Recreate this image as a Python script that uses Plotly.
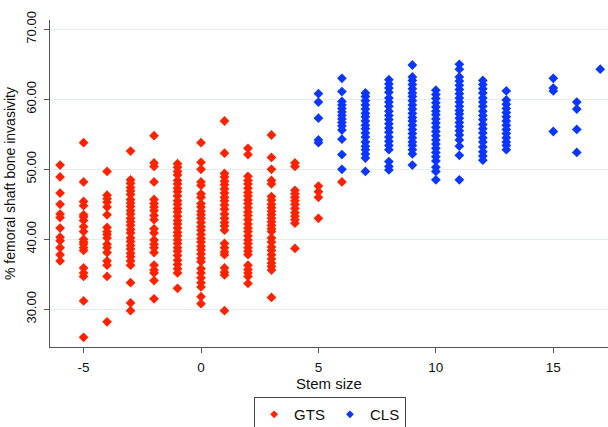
import plotly.graph_objects as go

# ---- data ----
gts_stems = [-6, -5, -4, -3, -2, -1, 0, 1, 2, 3, 4, 5, 6]
gts_values = [
    [50.6, 48.9, 46.6, 45.0, 43.6, 43.1, 41.6, 40.3, 39.8, 38.8, 37.8, 36.9],
    [53.8, 48.2, 45.4, 44.8, 43.5, 43.2, 42.7, 41.8, 41.1, 40.0, 39.6, 39.3, 38.8, 38.4, 35.9, 35.2, 34.7, 31.2, 26.0],
    [49.7, 46.3, 45.8, 45.3, 44.6, 43.5, 41.7, 41.1, 40.7, 40.2, 39.3, 38.8, 38.1, 36.9, 36.3, 34.7, 28.2],
    [52.6, 48.5, 48.0, 47.4, 46.9, 46.4, 45.7, 45.2, 44.7, 44.1, 43.6, 43.0, 42.5, 42.0, 41.4, 40.9, 40.2, 39.7, 39.1, 38.6, 38.0, 37.5, 36.9, 36.3, 33.8, 30.9, 29.8],
    [54.8, 50.9, 50.4, 48.2, 45.7, 45.1, 44.6, 44.1, 43.4, 42.8, 41.5, 40.9, 39.9, 39.3, 38.8, 38.1, 36.3, 35.6, 35.2, 34.1, 31.5],
    [50.8, 50.3, 49.7, 49.2, 48.4, 47.9, 47.3, 46.8, 46.2, 45.5, 45.0, 44.4, 43.9, 43.3, 42.7, 42.2, 41.6, 41.0, 40.5, 39.9, 39.4, 38.8, 38.3, 37.7, 37.0, 36.4, 35.8, 35.2, 33.0],
    [53.8, 51.0, 50.0, 48.2, 47.7, 46.5, 46.0, 45.1, 44.6, 44.0, 43.5, 43.0, 42.4, 41.8, 41.3, 40.7, 40.1, 39.6, 39.0, 38.5, 37.9, 37.3, 36.8, 35.8, 35.2, 34.5, 33.8, 33.2, 31.8, 30.8],
    [56.9, 52.3, 49.4, 48.9, 48.3, 47.8, 47.2, 46.6, 46.0, 45.5, 44.9, 44.3, 43.6, 43.0, 42.4, 41.9, 41.3, 39.4, 38.8, 38.2, 37.8, 35.9, 35.3, 34.9, 29.8],
    [53.0, 52.1, 49.0, 48.4, 47.9, 47.3, 46.7, 46.2, 45.6, 45.1, 44.5, 43.9, 43.4, 42.8, 42.2, 41.6, 41.1, 40.5, 39.9, 39.4, 38.8, 38.3, 37.8, 36.3, 35.7, 35.2, 34.7, 33.7],
    [54.9, 51.7, 50.0, 48.4, 47.9, 46.1, 45.6, 45.0, 44.5, 44.0, 43.5, 43.0, 42.5, 42.0, 41.5, 41.1, 40.2, 39.6, 38.9, 38.4, 37.8, 37.2, 36.6, 36.1, 35.6, 31.7],
    [50.9, 50.4, 47.0, 46.5, 46.0, 45.5, 45.0, 44.4, 43.8, 43.3, 42.8, 42.3, 38.7],
    [47.6, 46.8, 46.0, 43.0],
    [48.2],
]

cls_stems = [5, 6, 7, 8, 9, 10, 11, 12, 13, 15, 16, 17]
cls_values = [
    [60.8, 59.6, 57.3, 54.2, 53.8],
    [63.0, 61.1, 59.7, 59.2, 58.7, 58.2, 57.7, 57.2, 56.7, 56.2, 55.6, 54.3, 52.1, 50.0],
    [60.9, 60.4, 59.8, 59.2, 58.6, 58.0, 57.5, 56.9, 56.3, 55.8, 55.2, 54.6, 53.9, 53.3, 52.8, 52.2, 51.6, 49.7],
    [62.8, 62.2, 61.6, 61.0, 60.2, 59.6, 59.0, 58.3, 57.7, 57.1, 56.5, 55.9, 55.3, 54.6, 54.0, 53.4, 52.8, 51.1, 50.4, 49.9],
    [64.9, 63.2, 62.7, 62.1, 61.5, 60.9, 60.4, 59.8, 59.2, 58.6, 58.0, 57.4, 56.9, 56.3, 55.7, 55.1, 54.5, 53.9, 53.4, 52.8, 52.2, 50.6],
    [61.3, 60.7, 60.1, 59.5, 58.9, 58.3, 57.8, 57.2, 56.6, 56.0, 55.4, 54.8, 54.2, 53.6, 53.0, 52.4, 51.8, 51.2, 50.3, 49.7, 48.5],
    [65.0, 64.3, 63.2, 62.6, 62.0, 61.4, 60.8, 60.2, 59.6, 59.0, 58.4, 57.9, 57.3, 56.7, 56.1, 55.5, 54.9, 54.2, 53.3, 52.0, 48.5],
    [62.7, 62.1, 61.5, 60.9, 60.2, 59.6, 59.0, 58.3, 57.7, 57.1, 56.4, 55.8, 55.2, 54.5, 53.9, 53.2, 52.5, 51.9, 51.3],
    [61.2, 59.9, 59.3, 58.7, 58.1, 57.5, 56.9, 56.3, 55.7, 55.1, 54.5, 53.9, 53.4, 52.8],
    [63.0, 61.6, 61.2, 55.4],
    [59.6, 58.6, 55.7, 52.4],
    [64.3],
]

x_ticks = [-5, 0, 5, 10, 15]
y_ticks = [30, 40, 50, 60, 70]
series_names = ["GTS", "CLS"]


def flatten(stems, values):
    xs, ys = [], []
    for s, vals in zip(stems, values):
        for v in vals:
            xs.append(s)
            ys.append(v)
    return xs, ys


FONT = "Liberation Sans, Arial, Helvetica, sans-serif"
RED = "#ff2200"
BLUE = "#0a36ff"

gx, gy = flatten(gts_stems, gts_values)
cx, cy = flatten(cls_stems, cls_values)

fig = go.Figure()
for name, xs, ys, col in [(series_names[0], gx, gy, RED), (series_names[1], cx, cy, BLUE)]:
    fig.add_trace(go.Scatter(
        x=xs, y=ys, mode="markers", name=name, cliponaxis=False, showlegend=False,
        legendgroup=name,
        marker=dict(symbol="diamond", size=7.5, color=col, line=dict(width=0)),
    ))
    # legend entry with the small marker used in the reference key
    fig.add_trace(go.Scatter(
        x=[None], y=[None], mode="markers", name=name, legendgroup=name,
        marker=dict(symbol="diamond", size=6, color=col, line=dict(width=0)),
    ))

fig.update_layout(
    width=608, height=427,
    margin=dict(l=50, r=0, t=20, b=80),
    paper_bgcolor="white", plot_bgcolor="white",
    font=dict(family=FONT, color="#111111"),
    showlegend=True,
    legend=dict(
        orientation="h", x=0.502, xanchor="center",
        yref="container", y=0.07, yanchor="top",
        bordercolor="#444444", borderwidth=1,
        font=dict(size=15, family=FONT, color="#111111"),
        itemsizing="trace", itemwidth=30,
    ),
)
fig.update_xaxes(
    range=[-6.43, 17.33], automargin=False,
    tickmode="array", tickvals=x_ticks, ticktext=[str(v) for v in x_ticks],
    ticks="outside", ticklen=5, tickcolor="#555555",
    showline=True, linecolor="#555555", linewidth=1,
    showgrid=False, zeroline=False,
    tickfont=dict(size=13.5, family=FONT),
    ticklabelstandoff=3,
    title=dict(text="Stem size", font=dict(size=15, family=FONT), standoff=0),
)
fig.update_yaxes(
    range=[24.61, 71.33], automargin=False,
    tickmode="array", tickvals=y_ticks, ticktext=["%.2f" % v for v in y_ticks],
    tickangle=-90,
    ticks="outside", ticklen=5, tickcolor="#555555",
    showline=True, linecolor="#555555", linewidth=1,
    showgrid=True, gridcolor="#e6edf1", gridwidth=1, zeroline=False,
    tickfont=dict(size=13, family=FONT),
    ticklabelstandoff=3,
    title=dict(text="% femoral shaft bone invasivity", font=dict(size=14, family=FONT), standoff=4),
)

fig.write_html(
    "out.html",
    config={"displayModeBar": False},
    post_script="document.body.style.margin='0';document.body.style.overflow='hidden';",
)
